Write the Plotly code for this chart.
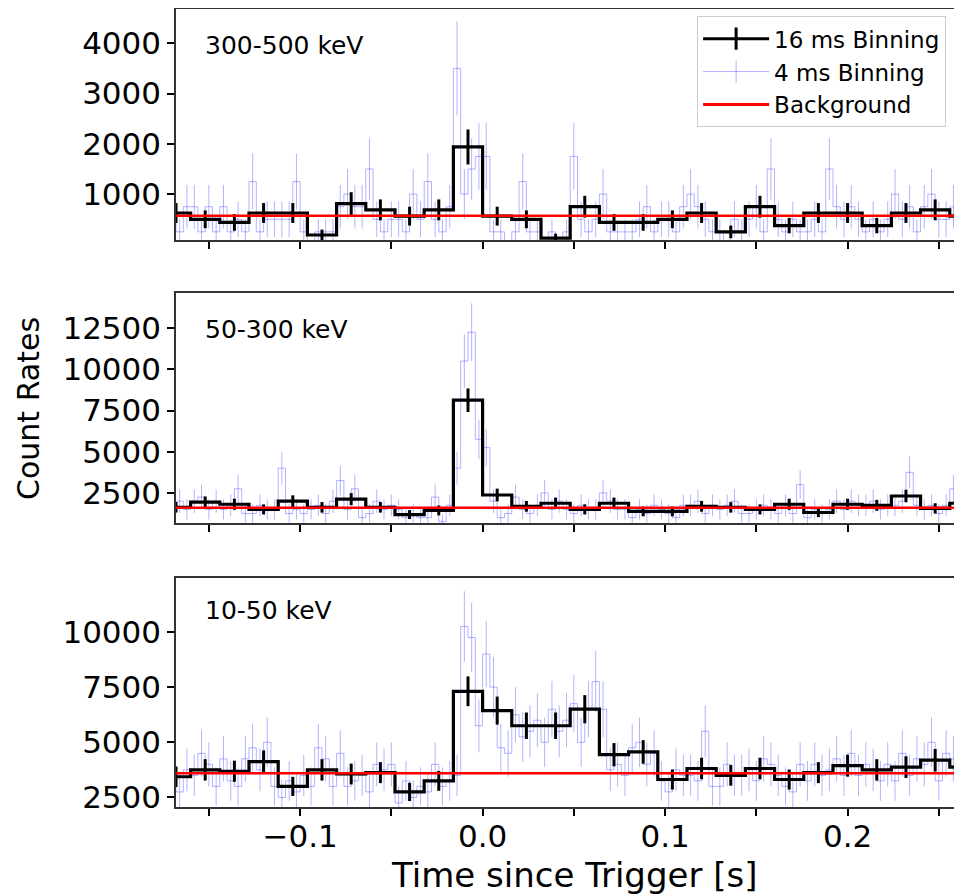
import numpy as np
import plotly.graph_objects as go
from plotly.subplots import make_subplots

# bins
t16_start, dt16, n16 = -0.168, 0.016, 28
t4_start, dt4, n4 = -0.174, 0.004, 112

# 16 ms binned count rates (per energy band)
rate16_hi = [625, 500, 437.5, 625, 625, 187.5, 812.5, 687.5, 562.5, 687.5, 1937.5, 562.5, 500, 125,
             750, 437.5, 437.5, 500, 625, 250, 750, 375, 625, 625, 375, 625, 687.5, 562.5]
rate16_mid = [1625, 1937.5, 1812.5, 1500, 2000, 1625, 2125, 1625, 1187.5, 1437.5, 8125, 2375, 1687.5, 1875,
              1500, 1875, 1375, 1375, 1687.5, 1625, 1500, 1812.5, 1312.5, 1812.5, 1750, 2312.5, 1562.5, 1875]
rate16_lo = [3437.5, 3750, 3687.5, 4125, 3000, 3750, 3562.5, 3625, 2750, 3250, 7312.5, 6437.5, 5750, 5750,
             6500, 4437.5, 4562.5, 3312.5, 3812.5, 3500, 3812.5, 3312.5, 3625, 3937.5, 3750, 3875, 4187.5, 3875]

# 4 ms binned count rates
rate4_hi = [750, 750, 250, 750, 750, 250, 750, 250, 750, 250, 500, 250, 1250, 250, 500, 500,
            500, 500, 1250, 250, 0, 250, 250, 250, 750, 1000, 750, 750, 1500, 500, 250, 500,
            500, 250, 1000, 500, 1250, 500, 250, 750, 3500, 1000, 1500, 1750, 1750, 250, 250, 0,
            250, 1250, 250, 250, 0, 250, 0, 250, 1750, 500, 250, 500, 1000, 250, 250, 250,
            250, 500, 750, 250, 500, 500, 250, 750, 1000, 750, 500, 250, 250, 0, 500, 250,
            500, 750, 250, 1500, 500, 250, 500, 250, 250, 500, 250, 1500, 750, 500, 750, 500,
            250, 500, 250, 500, 1000, 500, 750, 250, 750, 1000, 500, 500, 750, 500, 500, 500]
rate4_mid = [1750, 1250, 2000, 1500, 2000, 2250, 1500, 2000, 1500, 1750, 2750, 1250, 1250, 1750, 1500, 1500,
             4000, 1250, 1500, 1250, 1500, 1750, 1250, 2000, 3250, 1500, 2750, 1000, 1250, 2000, 1500, 1750,
             1500, 1000, 1250, 1000, 1000, 2250, 750, 1750, 4000, 10500, 12250, 5750, 5250, 2000, 1000, 1250,
             2250, 1500, 1250, 1750, 2500, 1500, 2000, 1500, 1250, 1750, 1500, 1500, 2500, 2000, 1500, 1500,
             1000, 1500, 1250, 1750, 1500, 1250, 1000, 1750, 1750, 2000, 1250, 1750, 1500, 1750, 2000, 1250,
             1250, 1500, 1750, 1500, 1250, 1750, 1250, 3000, 1000, 1500, 1250, 1500, 2000, 1500, 2000, 1750,
             1750, 2000, 1500, 1750, 1750, 2000, 3750, 1750, 1500, 1750, 1250, 1750, 2750, 1500, 1750, 1500]
rate4_lo = [4250, 3000, 2750, 3750, 3500, 4500, 4000, 3000, 4250, 3250, 3000, 4250, 4750, 3750, 5000, 3000,
            2500, 3250, 2750, 3500, 3000, 4750, 4250, 3000, 4500, 3000, 3250, 3500, 2750, 4000, 3750, 4000,
            2250, 3250, 2500, 3000, 2750, 4000, 3000, 3250, 3500, 10250, 9750, 5750, 9000, 7500, 4750, 4500,
            6250, 5250, 5500, 6000, 5000, 6500, 5500, 6000, 6750, 5000, 6500, 7750, 6500, 3750, 4000, 3500,
            4750, 5000, 4000, 4500, 3250, 2750, 3750, 3500, 3500, 3250, 5500, 3000, 3000, 4000, 3500, 3500,
            3750, 3250, 4250, 4000, 3500, 3000, 2750, 4000, 3250, 4000, 3500, 3750, 4250, 3500, 4500, 3500,
            4000, 3750, 3250, 4000, 3250, 4500, 3500, 4250, 4000, 5000, 3250, 4500, 4250, 3500, 4000, 3750]

background = [570, 1600, 3600]
bands = ["300-500 keV", "50-300 keV", "10-50 keV"]
y_ranges = [[88, 4680], [676, 14628], [2066, 12450]]
y_ticks = [[1000, 2000, 3000, 4000],
           [2500, 5000, 7500, 10000, 12500],
           [2500, 5000, 7500, 10000, 12500]]
x_tickvals = [-0.15, -0.1, -0.05, 0.0, 0.05, 0.1, 0.15, 0.2, 0.25]
x_ticktext = ["", "\u22120.1", "", "0.0", "", "0.1", "", "0.2", ""]

t16 = np.round(t16_start + dt16 * np.arange(n16), 3)
t4 = np.round(t4_start + dt4 * np.arange(n4), 3)

FONT = "DejaVu Sans"
BLUE = "rgba(0,0,255,0.3)"

fig = make_subplots(rows=3, cols=1, shared_xaxes=True)

for i, (r16, r4) in enumerate([(rate16_hi, rate4_hi), (rate16_mid, rate4_mid), (rate16_lo, rate4_lo)]):
    row = i + 1
    r16 = np.array(r16, dtype=float)
    r4 = np.array(r4, dtype=float)
    fig.add_trace(go.Scatter(x=t4, y=r4, mode="lines", line=dict(color=BLUE, width=1, shape="hvh"),
                             error_y=dict(type="data", array=np.sqrt(r4 / dt4), width=0, thickness=1,
                                          color=BLUE),
                             showlegend=False), row=row, col=1)
    fig.add_trace(go.Scatter(x=t16, y=r16, mode="lines", line=dict(color="black", width=3.2, shape="hvh"),
                             error_y=dict(type="data", array=np.sqrt(r16 / dt16), width=0, thickness=3,
                                          color="black"),
                             showlegend=False), row=row, col=1)
    fig.add_trace(go.Scatter(x=[t4[0], t4[-1]], y=[background[i]] * 2, mode="lines",
                             line=dict(color="red", width=2.5), showlegend=False), row=row, col=1)

# legend entries
fig.add_trace(go.Scatter(x=[None], y=[None], mode="lines+markers", name="16 ms Binning",
                         line=dict(color="black", width=3),
                         marker=dict(symbol="line-ns", size=22, line=dict(color="black", width=3))),
              row=1, col=1)
fig.add_trace(go.Scatter(x=[None], y=[None], mode="lines+markers", name="4 ms Binning",
                         line=dict(color=BLUE, width=1),
                         marker=dict(symbol="line-ns", size=22, line=dict(color=BLUE, width=1))),
              row=1, col=1)
fig.add_trace(go.Scatter(x=[None], y=[None], mode="lines", name="Background",
                         line=dict(color="red", width=3)), row=1, col=1)

domains = [[0.7105, 1.0], [0.3559, 0.6441], [0.0, 0.2870]]
label_y = [0.84, 0.84, 0.86]
for i in range(3):
    sfx = "" if i == 0 else str(i + 1)
    fig.layout["yaxis" + sfx].update(
        domain=domains[i], range=y_ranges[i], tickvals=y_ticks[i], ticktext=[str(v) for v in y_ticks[i]],
        ticks="outside", ticklen=7, tickwidth=1.5, tickcolor="black", showline=True, linecolor="#333",
        linewidth=1.5, mirror=False, showgrid=False, zeroline=False, automargin=False,
        tickfont=dict(family=FONT, size=31, color="black"))
    fig.layout["xaxis" + sfx].update(
        range=[-0.168, 0.2627], tickvals=x_tickvals, ticktext=x_ticktext, ticks="outside", ticklen=7,
        tickwidth=1.5, tickcolor="black", showline=True, linecolor="#333", linewidth=1.5,
        mirror=True, showgrid=False, zeroline=False, showticklabels=(i == 2), automargin=False,
        ticklabelstandoff=-6, tickfont=dict(family=FONT, size=31, color="black"))
    fig.add_annotation(x=0.034, y=label_y[i], xref="x" + sfx + " domain", yref="y" + sfx + " domain",
                       text=bands[i], showarrow=False, xanchor="left", yanchor="middle",
                       font=dict(family=FONT, size=25, color="black"))

fig.add_annotation(x=-0.1883, y=0.5, xref="paper", yref="paper", text="Count Rates",
                   textangle=-90, showarrow=False, xanchor="center", yanchor="middle",
                   font=dict(family=FONT, size=30, color="black"))
fig.add_annotation(x=0.506, y=-0.0852, xref="paper", yref="paper", text="Time since Trigger [s]",
                   showarrow=False, xanchor="center", yanchor="middle",
                   font=dict(family=FONT, size=34, color="black"))

fig.update_layout(
    width=954, height=887,
    margin=dict(l=168, r=0, t=1, b=88, autoexpand=False),
    plot_bgcolor="white", paper_bgcolor="white",
    legend=dict(x=0.663, y=0.991, xanchor="left", yanchor="top", bgcolor="white",
                bordercolor="#cccccc", borderwidth=1, font=dict(family=FONT, size=23, color="black"),
                tracegroupgap=0, itemwidth=66),
)

fig.write_html("out.html")
